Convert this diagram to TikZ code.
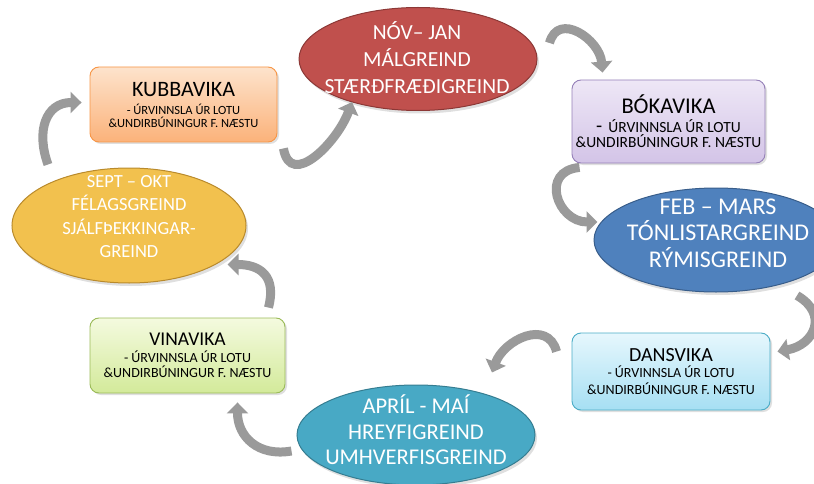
\documentclass[tikz,border=0pt]{standalone}
\usepackage{fontspec}
\setmainfont{Carlito}
\usepackage[]{tikz}
\usetikzlibrary{positioning}
\usetikzlibrary{arrows.meta}
\usetikzlibrary{shapes.geometric}
\usetikzlibrary{shadows}

\definecolor{novred}{HTML}{C0504D}
\definecolor{novline}{HTML}{8C3836}
\definecolor{septgold}{HTML}{F2C14E}
\definecolor{septline}{HTML}{B98A2C}
\definecolor{febblue}{HTML}{4F81BD}
\definecolor{febline}{HTML}{385D8A}
\definecolor{aprilteal}{HTML}{48A9C5}
\definecolor{aprilline}{HTML}{357D91}
\definecolor{kubbatop}{HTML}{FDE3CC}
\definecolor{kubbabot}{HTML}{FBB27A}
\definecolor{kubbaline}{HTML}{F79646}
\definecolor{boktop}{HTML}{EEE7F6}
\definecolor{bokbot}{HTML}{D3C4E7}
\definecolor{bokline}{HTML}{9580B8}
\definecolor{vinatop}{HTML}{F4FADF}
\definecolor{vinabot}{HTML}{D3EA9A}
\definecolor{vinaline}{HTML}{9BBB59}
\definecolor{danstop}{HTML}{E6F7FD}
\definecolor{dansbot}{HTML}{A6DFF3}
\definecolor{dansline}{HTML}{4BACC6}
\definecolor{cycgray}{HTML}{9A9A9A}

\newcommand{\vikatitle}[2]{{\fontsize{#1}{#1}\selectfont #2}}
\newcommand{\vikasub}{ÚRVINNSLA ÚR LOTU\\ \&UNDIRBÚNINGUR F. NÆSTU}

\begin{document}
\begin{tikzpicture}[x=1pt,y=1pt,
    vikabox/.style={rounded corners=9pt,line width=0.9pt,inner sep=0pt,align=center,
        drop shadow={opacity=0.25,shadow xshift=2pt,shadow yshift=-2pt}},
    lotuell/.style={ellipse,line width=1pt,inner sep=0pt,
        drop shadow={opacity=0.25,shadow xshift=2pt,shadow yshift=-3pt}},
    lotutext/.style={text=white,align=center,font=\fontsize{22}{27.5}\selectfont},
    cyc/.style={draw=cycgray,line width=9pt,-{Triangle[width=21pt,length=11pt]}}]
    \useasboundingbox (0,0) rectangle (814,483);

    % ellipses for the periods
    \node[lotuell,fill=novred,draw=novline,minimum width=238,minimum height=103] (nov) at (418,424) {};
    \node[lotutext,font=\fontsize{21.5}{27}\selectfont] (novtxt) at ([xshift=-1pt,yshift=1pt]nov) {NÓV-- JAN\\ MÁLGREIND\\ STÆRÐFRÆÐIGREIND};
    \node[lotuell,fill=febblue,draw=febline,minimum width=244,minimum height=104] (feb) at (716,243) {};
    \node[lotutext,font=\fontsize{24}{26.5}\selectfont] (febtxt) at ([xshift=2pt,yshift=7pt]feb) {FEB -- MARS\\ TÓNLISTARGREIND\\ RÝMISGREIND};
    \node[lotuell,fill=aprilteal,draw=aprilline,minimum width=238,minimum height=100] (april) at (416,48) {};
    \node[lotutext,font=\fontsize{22.5}{25.5}\selectfont] (apriltxt) at ([yshift=5pt]april) {APRÍL - MAÍ\\ HREYFIGREIND\\ UMHVERFISGREIND};
    \node[lotuell,fill=septgold,draw=septline,minimum width=234,minimum height=115] (sept) at (129,257.5) {};
    \node[lotutext,font=\fontsize{18.5}{23.5}\selectfont] (septtxt) at ([yshift=9pt]sept) {SEPT -- OKT\\ FÉLAGSGREIND\\ SJÁLFÞEKKINGAR-\\ GREIND};

    % boxes for the weeks
    \node[vikabox,top color=kubbatop,bottom color=kubbabot,draw=kubbaline,minimum width=187,minimum height=75,
        font=\fontsize{12.5}{13}\selectfont] (kubba) at (183.5,378.5)
        {\vikatitle{22}{KUBBAVIKA}\\[5pt] - \vikasub};
    \node[vikabox,top color=boktop,bottom color=bokbot,draw=bokline,minimum width=193,minimum height=83,
        font=\fontsize{15.5}{15}\selectfont] (bok) at (668.5,361.5)
        {\vikatitle{22.5}{BÓKAVIKA}\\[4pt] {\fontsize{20}{15}\selectfont -}\, \vikasub};
    \node[vikabox,top color=vinatop,bottom color=vinabot,draw=vinaline,minimum width=195,minimum height=75,
        font=\fontsize{14}{15}\selectfont] (vina) at (187.5,127.5)
        {\vikatitle{19.5}{VINAVIKA}\\[2pt] - \vikasub};
    \node[vikabox,top color=danstop,bottom color=dansbot,draw=dansline,minimum width=198,minimum height=77,
        font=\fontsize{14}{16.5}\selectfont] (dans) at (671,111.5)
        {\vikatitle{20}{DANSVIKA}\\ - \vikasub};

    % the cycle
    \draw[cyc] ([xshift=12pt,yshift=16pt]nov.east) to[out=75,in=95,looseness=1.4] ([xshift=31pt,yshift=7pt]bok.north west);
    \draw[cyc] ([xshift=8pt,yshift=-4pt]bok.south west) to[out=185,in=180,looseness=1.8] ([xshift=4pt,yshift=18pt]feb.west);
    \draw[cyc] ([xshift=81pt,yshift=-3pt]feb.south) to[out=-30,in=10,looseness=1.6] ([xshift=7pt,yshift=-19pt]dans.north east);
    \draw[cyc] ([xshift=-15pt,yshift=-19pt]dans.north west) to[out=105,in=70,looseness=1.3] ([xshift=76pt,yshift=12pt]april.north);
    \draw[cyc] ([xshift=-5pt,yshift=-16pt]april.west) to[out=190,in=-90,looseness=1.2] ([xshift=50pt,yshift=-9pt]vina.south);
    \draw[cyc] ([xshift=-17pt,yshift=10pt]vina.north east) to[out=75,in=0,looseness=1.4] ([xshift=-19pt,yshift=-39pt]sept.east);
    \draw[cyc] ([xshift=-81pt,yshift=3pt]sept.north) to[out=110,in=180,looseness=1.3] ([xshift=-8pt,yshift=2pt]kubba.west);
    \draw[cyc] ([xshift=6pt,yshift=-6pt]kubba.south east) to[out=-80,in=-110,looseness=1.3] ([xshift=-66pt,yshift=9pt]nov.south);
\end{tikzpicture}
\end{document}
